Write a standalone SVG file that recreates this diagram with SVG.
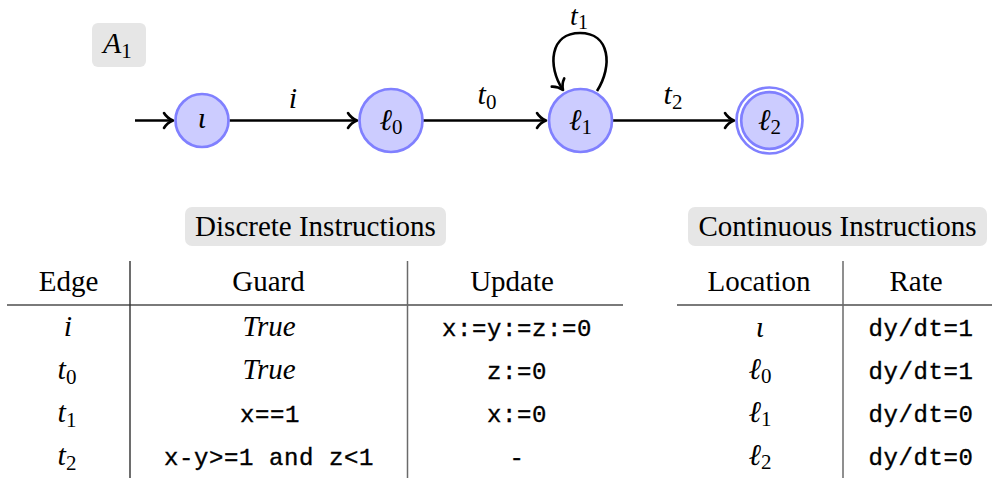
<svg xmlns="http://www.w3.org/2000/svg" width="992" height="481" viewBox="0 0 992 481">
<style>
.st{fill:#ccccff;stroke:#8080ff;stroke-width:2.7}
.ed{fill:none;stroke:#000;stroke-width:2.6}
.m{font-family:"Liberation Serif","Times New Roman",serif;font-style:italic;font-size:30px;fill:#000}
.sub{font-style:normal;font-size:21px}
.t{font-family:"Liberation Serif","Times New Roman",serif;font-size:29px;fill:#000}
.tt{font-family:"Liberation Mono","Courier New",monospace;font-size:24px;letter-spacing:0.6px;fill:#000;stroke:#000;stroke-width:0.35}
.box{fill:#e6e6e6}
.hl{stroke:#7a7a7a;stroke-width:2}
.vl{stroke:#6a6a6a;stroke-width:1.5}
</style>
<defs>
<marker id="arr" viewBox="-12 -10 14 20" refX="0" refY="0" markerWidth="14" markerHeight="20" markerUnits="userSpaceOnUse" orient="auto" overflow="visible">
<path d="M-9,-7.5 C-6,-2.5 -2,-0.8 0,0 C-2,0.8 -6,2.5 -9,7.5" fill="none" stroke="#000" stroke-width="2.6" stroke-linecap="round" stroke-linejoin="round"/>
</marker>
</defs>

<g id="label-A1">
<rect class="box" x="92" y="23" width="54" height="44" rx="6"/>
<text class="m" x="103" y="53">A<tspan class="sub" dy="5">1</tspan></text>
</g>

<g id="connectors">
<line class="ed" x1="135" y1="120.5" x2="173" y2="120.5" marker-end="url(#arr)"/>
<line class="ed" x1="229.5" y1="120.5" x2="357" y2="120.5" marker-end="url(#arr)"/>
<line class="ed" x1="423" y1="120.5" x2="546" y2="120.5" marker-end="url(#arr)"/>
<line class="ed" x1="613" y1="120.5" x2="734" y2="120.5" marker-end="url(#arr)"/>
<path class="ed" d="M597,91 C613,66 610,33 580,33 C550,33 547,66 563,90" marker-end="url(#arr)"/>
<text class="m" x="293" y="108" text-anchor="middle">i</text>
<text class="m" x="487" y="104" text-anchor="middle">t<tspan class="sub" dy="5">0</tspan></text>
<text class="m" x="579" y="25" text-anchor="middle" style="font-size:28px">t<tspan class="sub" dy="4" style="font-size:20px">1</tspan></text>
<text class="m" x="673" y="104" text-anchor="middle">t<tspan class="sub" dy="5">2</tspan></text>
</g>

<g id="node-iota">
<circle class="st" cx="202" cy="120.5" r="26.5"/>
<text class="m" x="202" y="128" text-anchor="middle">ι</text>
</g>
<g id="node-l0">
<circle class="st" cx="391" cy="120.5" r="31.5"/>
<text class="m" x="391" y="130" text-anchor="middle">ℓ<tspan class="sub" dy="4">0</tspan></text>
</g>
<g id="node-l1">
<circle class="st" cx="580.5" cy="120.5" r="31.5"/>
<text class="m" x="580.5" y="130" text-anchor="middle">ℓ<tspan class="sub" dy="4">1</tspan></text>
</g>
<g id="node-l2">
<circle cx="769.5" cy="120.5" r="33" fill="#fff" stroke="#8080ff" stroke-width="2.7"/>
<circle class="st" cx="769.5" cy="120.5" r="28.3"/>
<text class="m" x="769.5" y="130" text-anchor="middle">ℓ<tspan class="sub" dy="4">2</tspan></text>
</g>

<g id="discrete-table">
<rect class="box" x="185" y="207" width="261" height="39" rx="7"/>
<text class="t" x="315.5" y="236" text-anchor="middle">Discrete Instructions</text>
<line class="hl" x1="7" y1="305" x2="623" y2="305"/>
<line x1="130" y1="261" x2="130" y2="478" stroke="#303030" stroke-width="1.4"/>
<line class="vl" x1="407.5" y1="261" x2="407.5" y2="478"/>
<text class="t" x="68.5" y="291" text-anchor="middle">Edge</text>
<text class="t" x="268.5" y="291" text-anchor="middle">Guard</text>
<text class="t" x="512" y="291" text-anchor="middle">Update</text>
<text class="m" x="68" y="336" text-anchor="middle">i</text>
<text class="m" x="67" y="379" text-anchor="middle">t<tspan class="sub" dy="5">0</tspan></text>
<text class="m" x="67" y="422" text-anchor="middle">t<tspan class="sub" dy="5">1</tspan></text>
<text class="m" x="67" y="465" text-anchor="middle">t<tspan class="sub" dy="5">2</tspan></text>
<text class="m" x="269" y="379" text-anchor="middle" style="font-size:29px">True</text>
<text class="m" x="269" y="336" text-anchor="middle" style="font-size:29px">True</text>
<text class="tt" x="270" y="422" text-anchor="middle">x==1</text>
<text class="tt" x="269" y="465" text-anchor="middle">x-y&gt;=1 and z&lt;1</text>
<text class="tt" x="517" y="336" text-anchor="middle">x:=y:=z:=0</text>
<text class="tt" x="517" y="379" text-anchor="middle">z:=0</text>
<text class="tt" x="517" y="422" text-anchor="middle">x:=0</text>
<text class="tt" x="517" y="465" text-anchor="middle">-</text>
</g>

<g id="continuous-table">
<rect class="box" x="688" y="207" width="299" height="39" rx="7"/>
<text class="t" x="837.5" y="236" text-anchor="middle">Continuous Instructions</text>
<line class="hl" x1="677" y1="305" x2="992" y2="305"/>
<line class="vl" x1="843" y1="261" x2="843" y2="478"/>
<text class="t" x="759" y="291" text-anchor="middle">Location</text>
<text class="t" x="916" y="291" text-anchor="middle">Rate</text>
<text class="m" x="760" y="337" text-anchor="middle">ι</text>
<text class="m" x="760" y="379" text-anchor="middle">ℓ<tspan class="sub" dy="4">0</tspan></text>
<text class="m" x="760" y="422" text-anchor="middle">ℓ<tspan class="sub" dy="4">1</tspan></text>
<text class="m" x="760" y="465" text-anchor="middle">ℓ<tspan class="sub" dy="4">2</tspan></text>
<text class="tt" x="921" y="336" text-anchor="middle">dy/dt=1</text>
<text class="tt" x="921" y="379" text-anchor="middle">dy/dt=1</text>
<text class="tt" x="921" y="422" text-anchor="middle">dy/dt=0</text>
<text class="tt" x="921" y="465" text-anchor="middle">dy/dt=0</text>
</g>
</svg>
